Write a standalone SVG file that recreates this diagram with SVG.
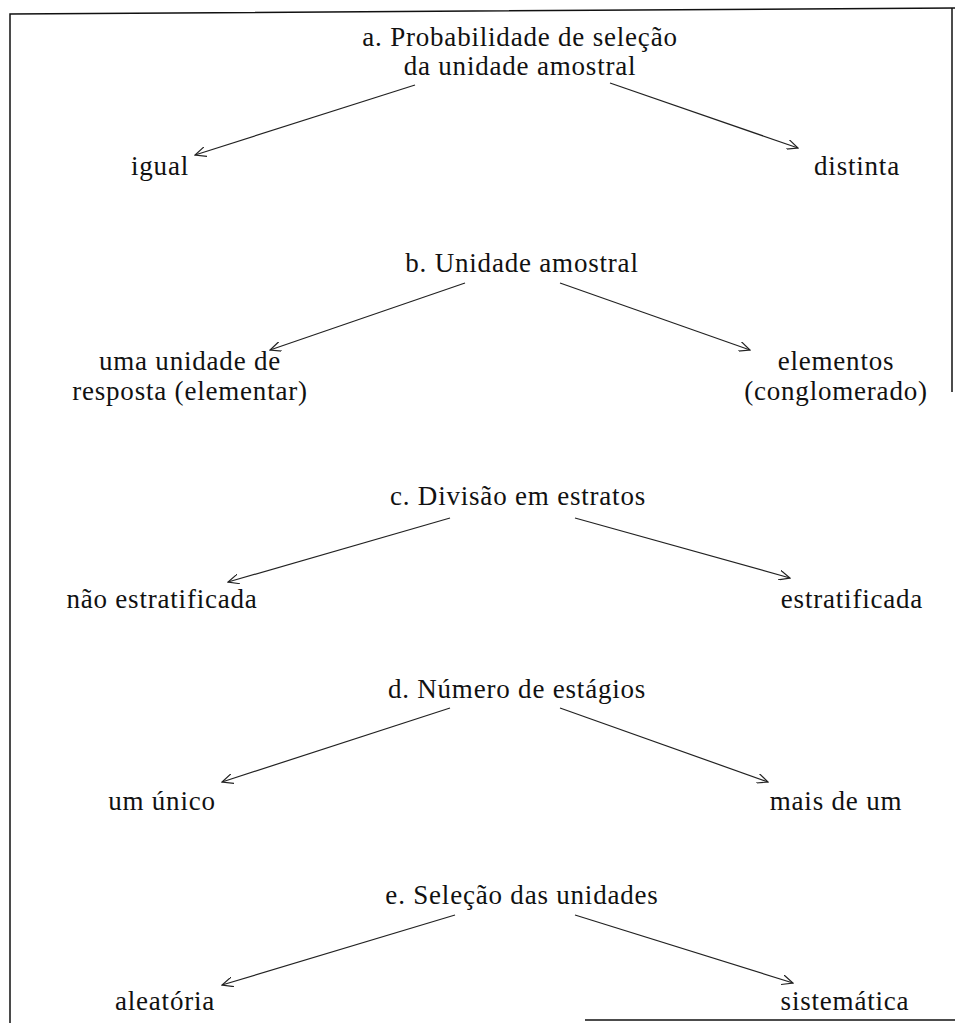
<svg xmlns="http://www.w3.org/2000/svg" width="955" height="1023" viewBox="0 0 955 1023">
<style>
text{font-family:"Liberation Serif","DejaVu Serif",serif;font-size:27px;letter-spacing:0.8px;fill:#111}
.c{text-anchor:middle}
.ln{stroke:#222;stroke-width:1.2;fill:none}
.bd{stroke:#111;stroke-width:1.5;fill:none}
</style>
<defs>
<marker id="ah" viewBox="0 0 12 10" refX="11" refY="5" markerWidth="12" markerHeight="10" markerUnits="userSpaceOnUse" orient="auto">
<path d="M0,0 L11,5 L0,10" fill="none" stroke="#222" stroke-width="1.2"/>
</marker>
</defs>
<rect width="955" height="1023" fill="#fff"/>
<g id="border">
<path class="bd" d="M10,1023 L10,14 L955,8"/>
<path class="bd" d="M952,8 L952,392"/>
<path class="bd" d="M585,1020 L955,1020"/>
</g>
<g id="connectors">
<line class="ln" x1="415" y1="85" x2="195" y2="155" marker-end="url(#ah)"/>
<line class="ln" x1="610" y1="83" x2="798" y2="148" marker-end="url(#ah)"/>
<line class="ln" x1="465" y1="283" x2="270" y2="350" marker-end="url(#ah)"/>
<line class="ln" x1="560" y1="283" x2="750" y2="350" marker-end="url(#ah)"/>
<line class="ln" x1="450" y1="518" x2="228" y2="582" marker-end="url(#ah)"/>
<line class="ln" x1="575" y1="518" x2="790" y2="578" marker-end="url(#ah)"/>
<line class="ln" x1="450" y1="708" x2="222" y2="782" marker-end="url(#ah)"/>
<line class="ln" x1="560" y1="708" x2="768" y2="782" marker-end="url(#ah)"/>
<line class="ln" x1="455" y1="915" x2="222" y2="985" marker-end="url(#ah)"/>
<line class="ln" x1="575" y1="915" x2="793" y2="983" marker-end="url(#ah)"/>
</g>
<g id="a">
<text class="c" x="520" y="46">a. Probabilidade de seleção</text>
<text class="c" x="520" y="75">da unidade amostral</text>
</g>
<g id="a1"><text class="c" x="160" y="175">igual</text></g>
<g id="a2"><text class="c" x="857" y="175">distinta</text></g>
<g id="b"><text class="c" x="522" y="272">b. Unidade amostral</text></g>
<g id="b1">
<text class="c" x="190" y="370">uma unidade de</text>
<text class="c" x="190" y="400">resposta (elementar)</text>
</g>
<g id="b2">
<text class="c" x="836" y="370">elementos</text>
<text class="c" x="836" y="400">(conglomerado)</text>
</g>
<g id="c"><text class="c" x="518" y="505">c. Divisão em estratos</text></g>
<g id="c1"><text class="c" x="162" y="608">não estratificada</text></g>
<g id="c2"><text class="c" x="852" y="608">estratificada</text></g>
<g id="d"><text class="c" x="517" y="698">d. Número de estágios</text></g>
<g id="d1"><text class="c" x="162" y="810">um único</text></g>
<g id="d2"><text class="c" x="836" y="810">mais de um</text></g>
<g id="e"><text class="c" x="522" y="904">e. Seleção das unidades</text></g>
<g id="e1"><text class="c" x="165" y="1010">aleatória</text></g>
<g id="e2"><text class="c" x="845" y="1010">sistemática</text></g>
</svg>
